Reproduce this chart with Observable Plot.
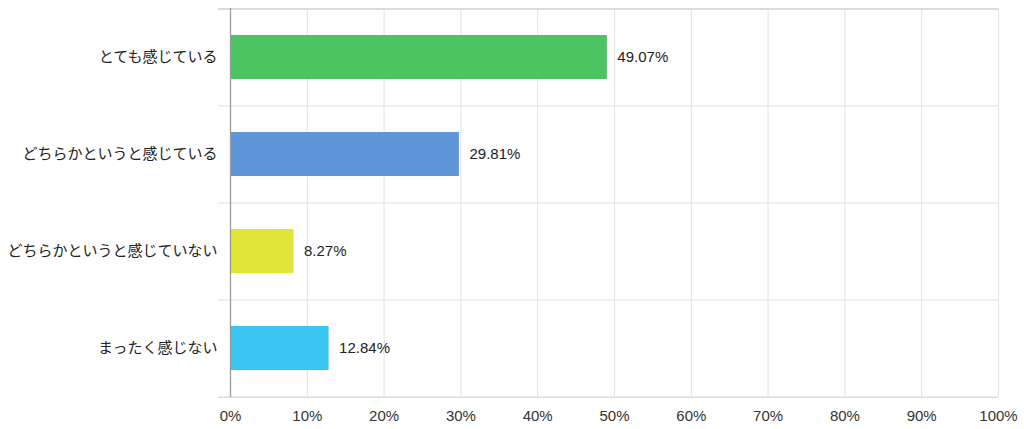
<!DOCTYPE html>
<html><head><meta charset="utf-8">
<script src="https://cdn.jsdelivr.net/npm/d3@7"></script>
<script src="https://cdn.jsdelivr.net/npm/@observablehq/plot@0.6"></script>
<style>
html,body{margin:0;padding:0;background:#fff;}
#chart{width:1024px;height:429px;}
</style>
</head><body><div id="chart"></div>
<script>
const categories = ["とても感じている","どちらかというと感じている","どちらかというと感じていない","まったく感じない"];
const values = [49.07, 29.81, 8.27, 12.84];
const colors = ["#4dc462","#5f95d9","#e0e537","#38c5f0"];
const xTicks = [0,10,20,30,40,50,60,70,80,90,100];

const data = categories.map((c,i)=>({cat:c, v:values[i], color:colors[i]}));
const W = 1024, H = 429, mT = 8, mB = 32, mL = 230, mR = 26;
const step = (H - mT - mB) / categories.length;
const latin = "'Liberation Sans', Arial, 'Noto Sans CJK JP', sans-serif";
const jp = "'Noto Sans CJK JP', sans-serif";

const chart = Plot.plot({
  width: W, height: H,
  marginTop: mT, marginBottom: mB, marginLeft: mL, marginRight: mR,
  style: {fontFamily: latin, fontSize: "15px", color: "#333", background: "#fff"},
  x: {domain: [0,100], ticks: xTicks, tickFormat: d => d + "%", label: null},
  y: {domain: categories, paddingInner: 0.55, paddingOuter: 0.275, label: null},
  marks: [
    Plot.ruleX(xTicks.slice(1), {stroke: "#e2e2e2", strokeWidth: 1}),
    Plot.ruleY(categories, {y: d => d, dy: -step/2, stroke: "#e0e0e0", strokeWidth: 1, insetLeft: -12}),
    Plot.ruleY([categories[categories.length-1]], {y: d => d, dy: step/2, stroke: "#dcdcdc", strokeWidth: 1.5, insetLeft: -12}),
    Plot.ruleY([categories[0]], {y: d => d, dy: -step/2, stroke: "#dcdcdc", strokeWidth: 2, insetLeft: -12}),
    Plot.barX(data, {x: "v", y: "cat", fill: "color"}),
    Plot.ruleX([0], {stroke: "#9a9a9a", strokeWidth: 1.3}),
    Plot.text(data, {x: "v", y: "cat", text: d => d.v.toFixed(2) + "%", textAnchor: "start", dx: 10, fill: "#222", fontSize: 15}),
    Plot.axisX({ticks: xTicks, tickFormat: d => d + "%", tickSize: 0, tickPadding: 13, fontSize: 15, fill: "#333"}),
    Plot.axisY({tickSize: 0, tickPadding: 13, fontSize: 15, fill: "#222", fontFamily: jp})
  ]
});
document.getElementById("chart").appendChild(chart);
</script>
</body></html>
